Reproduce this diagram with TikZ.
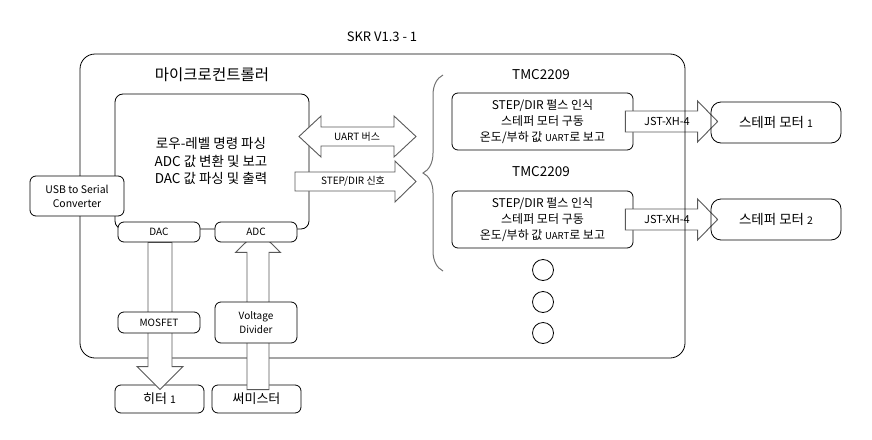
\documentclass[tikz,border=0pt]{standalone}
\usepackage{fontspec}
\setmainfont{Noto Sans CJK KR}
\usetikzlibrary{calc,decorations.pathreplacing}

\pgfdeclarelayer{front}
\pgfsetlayers{main,front}

\tikzset{
  line/.style={line width=0.8pt},
  box/.style={draw,line,rounded corners=6,fill=white,inner sep=0pt,align=center,font=\fontsize{10}{14}\selectfont},
  blockarrow/.style={draw=black!65,fill=white,line width=0.9pt,line join=miter}
}
\newcommand\numsm[1]{{\fontsize{10.5}{12}\selectfont #1}}
\newcommand\uartsm{{\fontsize{9.5}{12}\selectfont UART}}

% block arrows: from, to, half body, half head, head length
\newcommand\rblock[5]{\draw[blockarrow] let \p1=(#1), \p2=(#2) in
  (\x1,\y1+#3) -- (\x2-#5,\y1+#3) -- (\x2-#5,\y1+#4) -- (\x2,\y1)
  -- (\x2-#5,\y1-#4) -- (\x2-#5,\y1-#3) -- (\x1,\y1-#3) -- cycle;}
\newcommand\dblock[5]{\draw[blockarrow] let \p1=(#1), \p2=(#2) in
  (\x1,\y1) -- (\x1+#5,\y1+#4) -- (\x1+#5,\y1+#3) -- (\x2-#5,\y1+#3) -- (\x2-#5,\y1+#4) -- (\x2,\y1)
  -- (\x2-#5,\y1-#4) -- (\x2-#5,\y1-#3) -- (\x1+#5,\y1-#3) -- (\x1+#5,\y1-#4) -- cycle;}
\newcommand\downblock[5]{\draw[blockarrow] let \p1=(#1), \p2=(#2) in
  (\x1+#3,\y1) -- (\x1+#3,\y2+#5) -- (\x1+#4,\y2+#5) -- (\x1,\y2)
  -- (\x1-#4,\y2+#5) -- (\x1-#3,\y2+#5) -- (\x1-#3,\y1) -- cycle;}
\newcommand\upblock[5]{\draw[blockarrow] let \p1=(#1), \p2=(#2) in
  (\x1+#3,\y1) -- (\x1+#3,\y2-#5) -- (\x1+#4,\y2-#5) -- (\x1,\y2)
  -- (\x1-#4,\y2-#5) -- (\x1-#3,\y2-#5) -- (\x1-#3,\y1) -- cycle;}

\begin{document}
\begin{tikzpicture}[x=1pt,y=-1pt]
  \useasboundingbox (0,0) rectangle (872,439);
  \node[font=\fontsize{13}{15}\selectfont] at (382,37) (title) {SKR V1.3 - 1};

  % drivers
  \node[font=\fontsize{13.5}{16}\selectfont] at (541,75) (tmc1label) {TMC2209};
  \node[box,minimum width=181,minimum height=57,font=\fontsize{12}{16}\selectfont] at (542.5,121.5) (tmc1) {STEP/DIR 펄스 인식\\스테퍼 모터 구동\\온도/부하 값 \uartsm 로 보고};
  \node[font=\fontsize{13.5}{16}\selectfont] at (541,172) (tmc2label) {TMC2209};
  \node[box,minimum width=181,minimum height=57,font=\fontsize{12}{16}\selectfont] at (542.5,219.5) (tmc2) {STEP/DIR 펄스 인식\\스테퍼 모터 구동\\온도/부하 값 \uartsm 로 보고};
  \draw[decorate,decoration={brace,amplitude=20},draw=black!55,line width=1pt] (443,271) -- (443,75);
  \foreach \n/\y in {1/270,2/302,3/333}
    \node[draw,line,circle,minimum size=21,inner sep=0pt] at (543,\y) (more\n) {};

  \begin{pgfonlayer}{front}
    \node[draw,line,rounded corners=10,minimum width=130,minimum height=41,font=\fontsize{13.5}{16}\selectfont] at (776,122.5) (motor1) {스테퍼 모터 \numsm{1}};
    \node[draw,line,rounded corners=10,minimum width=130,minimum height=41,font=\fontsize{13.5}{16}\selectfont] at (776,219.5) (motor2) {스테퍼 모터 \numsm{2}};
  \end{pgfonlayer}
  \rblock{$(tmc1.east)+(-8,0)$}{$(motor1.west)+(7,0)$}{10.5}{20.5}{20}
  \rblock{$(tmc2.east)+(-8,0)$}{$(motor2.west)+(7,0)$}{10.5}{20.5}{20}
  \node[font=\fontsize{11}{13}\selectfont] at (667,121.5) (jst1) {JST-XH-4};
  \node[font=\fontsize{11}{13}\selectfont] at (667,219.5) (jst2) {JST-XH-4};

  % board
  \node[draw,line,rounded corners=15,minimum width=605,minimum height=304] at (382.5,206) (board) {};
  \node[font=\fontsize{15.5}{18}\selectfont] at (212,75) (mcuname) {마이크로컨트롤러};
  \node[draw,line,rounded corners=8,minimum width=194,minimum height=135] at (212,161.5) (mcu) {};
  \node[align=center,font=\fontsize{13.5}{17.5}\selectfont] at (211,161) (mcutext) {로우-레벨 명령 파싱\\ADC 값 변환 및 보고\\DAC 값 파싱 및 출력};

  \coordinate (uartL) at (299,136.5);
  \coordinate (uartR) at (416,136.5);
  \coordinate (stepL) at (295,181.5);
  \coordinate (stepR) at (416,181.5);
  \dblock{uartL}{uartR}{9.5}{20.5}{22}
  \rblock{stepL}{stepR}{9.5}{20.5}{21}
  \node[font=\fontsize{10}{12}\selectfont] at (357,136.5) (uart) {UART 버스};
  \node[font=\fontsize{10}{12}\selectfont] at (353,181.5) (step) {STEP/DIR 신호};

  % heater and thermistor
  \node[box,minimum width=89,minimum height=28,font=\fontsize{13}{15}\selectfont] at (159.5,399) (heater) {히터 \numsm{1}};
  \node[box,minimum width=89,minimum height=28,font=\fontsize{13}{15}\selectfont] at (256.5,399) (thermistor) {써미스터};
  \begin{pgfonlayer}{front}
    \node[box,minimum width=94,minimum height=40,font=\fontsize{10.5}{14}\selectfont] at (77,196) (usb) {USB to Serial\\Converter};
    \node[box,minimum width=82,minimum height=20] at (159,232) (dac) {DAC};
    \node[box,minimum width=82,minimum height=20] at (256,232) (adc) {ADC};
    \node[box,minimum width=82,minimum height=21] at (159,322.5) (mosfet) {MOSFET};
    \node[box,minimum width=82,minimum height=41] at (256,322.5) (vdiv) {Voltage\\Divider};
  \end{pgfonlayer}
  \downblock{$(dac.south)+(1,0)$}{$(heater.north)+(0,5)$}{12}{23}{23}
  \upblock{$(thermistor.north)+(1.5,5)$}{$(adc.south)+(2,-12)$}{11}{22.5}{22}
\end{tikzpicture}
\end{document}
